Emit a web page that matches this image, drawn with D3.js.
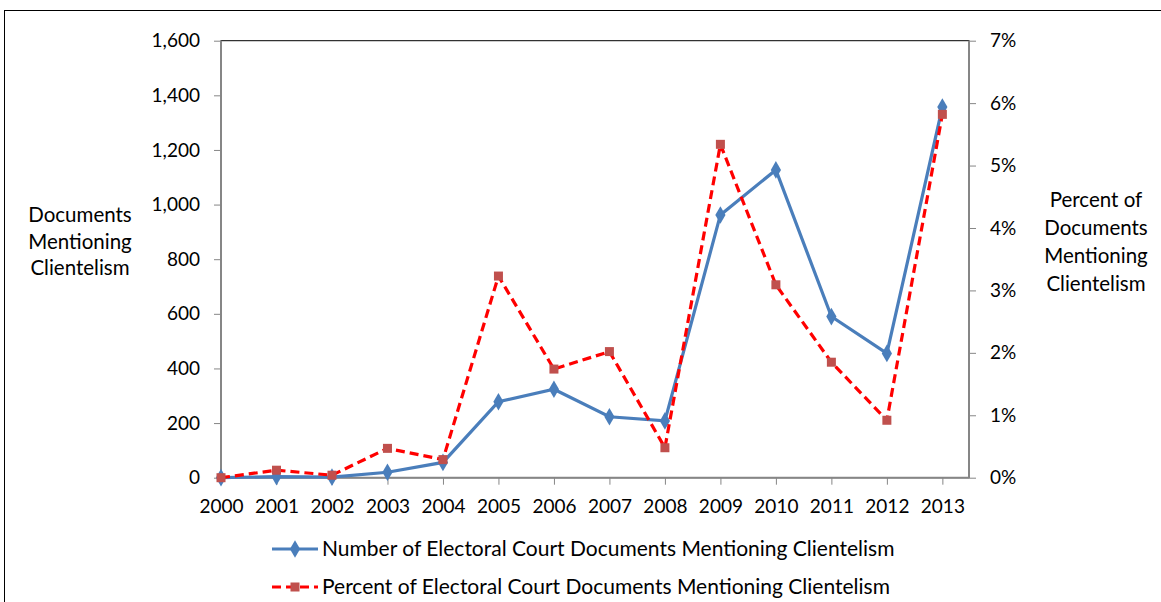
<!DOCTYPE html>
<html><head><meta charset="utf-8">
<script src="https://cdn.jsdelivr.net/npm/d3@7/dist/d3.min.js"></script>
<style>body{margin:0;background:#fff}svg{display:block}text{font-family:Lato,"Open Sans",sans-serif;fill:#000}</style>
</head><body><svg id="c" width="1161" height="602"></svg>
<script>
const years = [2000,2001,2002,2003,2004,2005,2006,2007,2008,2009,2010,2011,2012,2013];
const countValues = [0,4,2,20,56,278,324,223,208,962,1127,590,455,1357];
const percentValues = [0,0.12,0.04,0.47,0.29,3.23,1.74,2.02,0.48,5.34,3.09,1.85,0.92,5.82];
const leftTicks = [0,200,400,600,800,1000,1200,1400,1600];
const rightTicks = [0,1,2,3,4,5,6,7];
const seriesNames = ["Number of Electoral Court Documents Mentioning Clientelism","Percent of Electoral Court Documents Mentioning Clientelism"];
const leftTitle = ["Documents","Mentioning","Clientelism"];
const rightTitle = ["Percent of","Documents","Mentioning","Clientelism"];

const svg = d3.select("#c");
const L=221, R=969, T=40.7, B=477.7;
const x = d3.scaleLinear().domain([0, 13.48]).range([L, R]);
const yL = d3.scaleLinear().domain([0,1600]).range([B,T]);
const yR = d3.scaleLinear().domain([0,7]).range([B,T]);
const blue="#4A7EBB", red="#FF0000", redM="#C0504D", axisC="#868686";

svg.append("rect").attr("x",4.5).attr("y",10.5).attr("width",1170).attr("height",620).attr("fill","none").attr("stroke","#000").attr("stroke-width",1);
svg.append("rect").attr("x",L).attr("y",T).attr("width",R-L).attr("height",B-T).attr("fill","none").attr("stroke","#000").attr("stroke-width",1);

const gl = svg.append("g").attr("transform",`translate(${L},0)`)
  .call(d3.axisLeft(yL).tickValues(leftTicks).tickSize(7).tickPadding(14).tickFormat(d3.format(",")));
const gr = svg.append("g").attr("transform",`translate(${R},0)`)
  .call(d3.axisRight(yR).tickValues(rightTicks).tickSize(7).tickPadding(14).tickFormat(d=>d+"%"));
const gx = svg.append("g").attr("transform",`translate(0,${B})`)
  .call(d3.axisBottom(x).tickValues(d3.range(years.length)).tickSize(7).tickPadding(15).tickFormat(i=>years[i]));
[gl,gr,gx].forEach(g=>{
  g.selectAll("path.domain").attr("stroke",axisC).attr("stroke-width",2);
  g.selectAll(".tick line").attr("stroke",axisC).attr("stroke-width",1);
  g.selectAll(".tick text").attr("font-size",19).attr("font-family","Lato").attr("fill","#000");
});
gl.select("path.domain").attr("d",`M0,${B}V${T}`);
gr.select("path.domain").attr("d",`M0,${B}V${T}`);
gx.select("path.domain").attr("d",`M${L},0H${R}`);

svg.append("text").attr("font-size",20.5).attr("text-anchor","middle")
  .selectAll("tspan").data(leftTitle).join("tspan").attr("x",80).attr("y",(d,i)=>222+i*26.5).text(d=>d);
svg.append("text").attr("font-size",20.5).attr("text-anchor","middle")
  .selectAll("tspan").data(rightTitle).join("tspan").attr("x",1096).attr("y",(d,i)=>207+i*28).text(d=>d);

const idx = d3.range(years.length);
svg.append("path").datum(idx).attr("fill","none").attr("stroke",blue).attr("stroke-width",3.2)
  .attr("d",d3.line().x(i=>x(i)).y(i=>yL(countValues[i])));
const diamond = d3.symbol().type(d3.symbolDiamond).size(90);
svg.append("g").selectAll("path").data(idx).join("path")
  .attr("transform",i=>`translate(${x(i)},${yL(countValues[i])})`).attr("d",diamond).attr("fill",blue);

svg.append("path").datum(idx).attr("fill","none").attr("stroke",red).attr("stroke-width",3.2).attr("stroke-dasharray","9,5")
  .attr("d",d3.line().x(i=>x(i)).y(i=>yR(percentValues[i])));
svg.append("g").selectAll("rect").data(idx).join("rect")
  .attr("x",i=>x(i)-4.5).attr("y",i=>yR(percentValues[i])-4.5).attr("width",9).attr("height",9).attr("fill",redM);

const lg = svg.append("g");
const ly=[549,587];
lg.append("line").attr("x1",272).attr("x2",318).attr("y1",ly[0]).attr("y2",ly[0]).attr("stroke",blue).attr("stroke-width",3.2);
lg.append("path").attr("transform",`translate(295,${ly[0]})`).attr("d",diamond).attr("fill",blue);
lg.append("line").attr("x1",272).attr("x2",318).attr("y1",ly[1]).attr("y2",ly[1]).attr("stroke",red).attr("stroke-width",3.2).attr("stroke-dasharray","9,5");
lg.append("rect").attr("x",290.5).attr("y",ly[1]-4.5).attr("width",9).attr("height",9).attr("fill",redM);
lg.selectAll("text").data(seriesNames).join("text").attr("x",322).attr("y",(d,i)=>ly[i]+7).attr("font-size",21).text(d=>d);
</script></body></html>
